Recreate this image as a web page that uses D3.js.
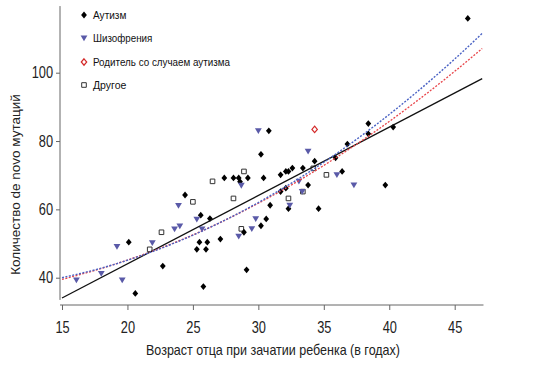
<!DOCTYPE html>
<html><head><meta charset="utf-8">
<script src="https://cdn.jsdelivr.net/npm/d3@7"></script>
<style>body{margin:0;background:#fff}</style>
</head><body><svg id="c" width="545" height="380"></svg>
<script>
// ---- data ----
const autism = [
  [20.1,50.4],[20.6,35.4],[22.7,43.4],[24.4,64.2],[25.6,58.3],[26.3,57.3],[25.8,37.4],
  [25.5,50.4],[26.1,50.4],[25.3,48.3],[26.0,48.3],[27.1,51.3],[27.4,69.2],[28.1,69.2],
  [28.5,69.2],[28.6,68.1],[29.2,69.2],[30.4,69.2],[30.9,61.2],[30.6,57.2],[30.2,55.2],
  [28.9,53.3],[29.1,42.3],[30.8,83.0],[30.2,76.1],[31.7,70.1],[32.1,71.1],[32.3,71.1],
  [32.6,72.1],[32.1,66.2],[31.7,65.2],[32.3,60.2],[33.4,72.1],[34.3,74.1],[33.8,67.1],
  [34.6,60.2],[35.9,75.1],[36.4,71.1],[36.8,79.1],[38.4,85.1],[38.4,82.1],[40.3,84.1],
  [39.7,67.1],[46.0,115.9]
];
const schizophrenia = [
  [16.1,39.3],[18.0,41.2],[19.2,49.1],[19.6,39.3],[21.9,50.2],[23.9,61.1],[24.0,55.1],
  [23.6,54.2],[25.3,57.1],[25.7,54.2],[28.7,67.0],[28.5,52.1],[29.5,54.3],[29.8,57.2],
  [30.0,83.0],[32.4,61.2],[33.1,68.2],[33.8,77.0],[33.35,65.2],[36.0,70.1],[37.3,67.1]
];
const parentAutism = [[34.3,83.4]];
const other = [
  [21.7,48.3],[22.6,53.3],[25.0,62.2],[26.5,68.2],[28.1,63.2],[28.9,71.1],[28.7,54.3],
  [32.3,63.2],[34.2,72.0],[35.2,70.1],[33.4,65.2]
];
const linearX = [15, 47.1];
const linearY = [34.06, 98.26];
const curveX = [15,18,21,24,27,30,33,36,39,42,45,47.1];
const blueY  = [40.0,42.8,46.4,50.8,56.0,62.0,68.8,76.4,84.8,94.0,104.0,111.5];
const redY   = [39.5,42.7,46.5,50.9,56.0,61.8,68.2,75.3,83.0,91.4,100.4,107.1];
const xTicks = [15,20,25,30,35,40,45];
const yTicks = [40,60,80,100];
const xAxisExtent = [14.85, 47.2];
const yAxisExtent = [33.5, 119.5];
const legendLabels = ["Аутизм","Шизофрения","Родитель со случаем аутизма","Другое"];
const xTitle = "Возраст отца при зачатии ребенка (в годах)";
const yTitle = "Количество de novo мутаций";

// ---- drawing ----
const svg = d3.select('#c');
const x = d3.scaleLinear().domain([15,45]).range([62,454.7]);
const y = d3.scaleLinear().domain([40,100]).range([277.7,72.7]);
const FONT = "'Liberation Sans', Arial, sans-serif";
const squeeze = (sel, f) => sel.each(function(){
  const n = this.getComputedTextLength();
  d3.select(this).attr('textLength', n*f).attr('lengthAdjust','spacingAndGlyphs');
});

// custom symbols
const diamond = {draw(ctx, s){ const w=s*0.85, h=s; ctx.moveTo(0,-h); ctx.lineTo(w,0); ctx.lineTo(0,h); ctx.lineTo(-w,0); ctx.closePath(); }};
const triDown = {draw(ctx, s){ const w=s, h=s*1.7; ctx.moveTo(-w,-h*0.45); ctx.lineTo(w,-h*0.45); ctx.lineTo(0,h*0.55); ctx.closePath(); }};
const square = {draw(ctx, s){ ctx.rect(-s,-s,2*s,2*s); }};
const sym = (t, s) => d3.symbol().type(t).size(s)();

const styles = {
  autism: {path: sym(diamond,3.4), fill:'#000', stroke:'none', sw:0},
  schizo: {path: sym(triDown,3.4), fill:'#5a5aa8', stroke:'none', sw:0},
  parent: {path: sym(diamond,3.2), fill:'#fff', stroke:'#d42a2a', sw:1.2},
  other:  {path: sym(square,2.3), fill:'#fff', stroke:'#333', sw:1}
};

// axes
const gx = svg.append('g').attr('transform','translate(0,305)')
  .call(d3.axisBottom(x).tickValues(xTicks).tickSize(5).tickPadding(12).tickFormat(d3.format('d')));
gx.select('.domain').remove();
gx.selectAll('line').attr('stroke','#666');
gx.selectAll('text').attr('font-family',FONT).attr('font-size',16).attr('fill','#222').call(squeeze,0.8);
svg.append('line').attr('x1',x(xAxisExtent[0])).attr('x2',x(xAxisExtent[1])).attr('y1',305).attr('y2',305)
  .attr('stroke','#666').attr('stroke-width',1);

const gy = svg.append('g').attr('transform','translate(60,0)')
  .call(d3.axisLeft(y).tickValues(yTicks).tickSize(4).tickPadding(3).tickFormat(d3.format('d')));
gy.select('.domain').remove();
gy.selectAll('line').attr('stroke','#666');
gy.selectAll('text').attr('font-family',FONT).attr('font-size',16).attr('fill','#222').call(squeeze,0.8);
svg.append('line').attr('x1',60).attr('x2',60).attr('y1',y(yAxisExtent[0])).attr('y2',y(yAxisExtent[1]))
  .attr('stroke','#666').attr('stroke-width',1);

// points
function pts(data, st){
  svg.append('g').selectAll('path').data(data).join('path')
    .attr('d', st.path).attr('transform', d=>`translate(${x(d[0])},${y(d[1])})`)
    .attr('fill', st.fill).attr('stroke', st.stroke).attr('stroke-width', st.sw);
}
pts(other, styles.other);
pts(autism, styles.autism);
pts(schizophrenia, styles.schizo);
pts(parentAutism, styles.parent);

// fits
const line = d3.line().x(d=>x(d[0])).y(d=>y(d[1]));
svg.append('path').attr('d', line(linearX.map((v,i)=>[v,linearY[i]])))
  .attr('fill','none').attr('stroke','#111').attr('stroke-width',1.3);
const cl = d3.line().x(d=>x(d[0])).y(d=>y(d[1])).curve(d3.curveMonotoneX);
svg.append('path').attr('d', cl(curveX.map((v,i)=>[v,redY[i]])))
  .attr('fill','none').attr('stroke','#e8454a').attr('stroke-width',1.3).attr('stroke-dasharray','2,1.5');
svg.append('path').attr('d', cl(curveX.map((v,i)=>[v,blueY[i]])))
  .attr('fill','none').attr('stroke','#4a62c4').attr('stroke-width',1.4).attr('stroke-dasharray','2,1.5');

// legend
const legStyles = [styles.autism, styles.schizo, styles.parent, styles.other];
const legY = [15, 38, 62, 85];
const legW = [33.4, 59.4, 137, 33.4];
legendLabels.forEach((t,i)=>{
  const st = legStyles[i];
  svg.append('path').attr('d', st.path).attr('transform',`translate(84,${legY[i]})`)
    .attr('fill', st.fill).attr('stroke', st.stroke).attr('stroke-width', st.sw);
  svg.append('text').attr('x',93).attr('y',legY[i]+4).text(t)
    .attr('font-family',FONT).attr('font-size',11.5).attr('fill','#111')
    .attr('textLength',legW[i]).attr('lengthAdjust','spacingAndGlyphs');
});

// titles
svg.append('text').attr('x',273).attr('y',355).attr('text-anchor','middle').text(xTitle)
  .attr('font-family',FONT).attr('font-size',15).attr('fill','#222')
  .attr('textLength',254).attr('lengthAdjust','spacingAndGlyphs');
svg.append('text').attr('transform','translate(20,184.5) rotate(-90)').attr('text-anchor','middle').text(yTitle)
  .attr('font-family',FONT).attr('font-size',13.5).attr('fill','#222');
</script></body></html>
